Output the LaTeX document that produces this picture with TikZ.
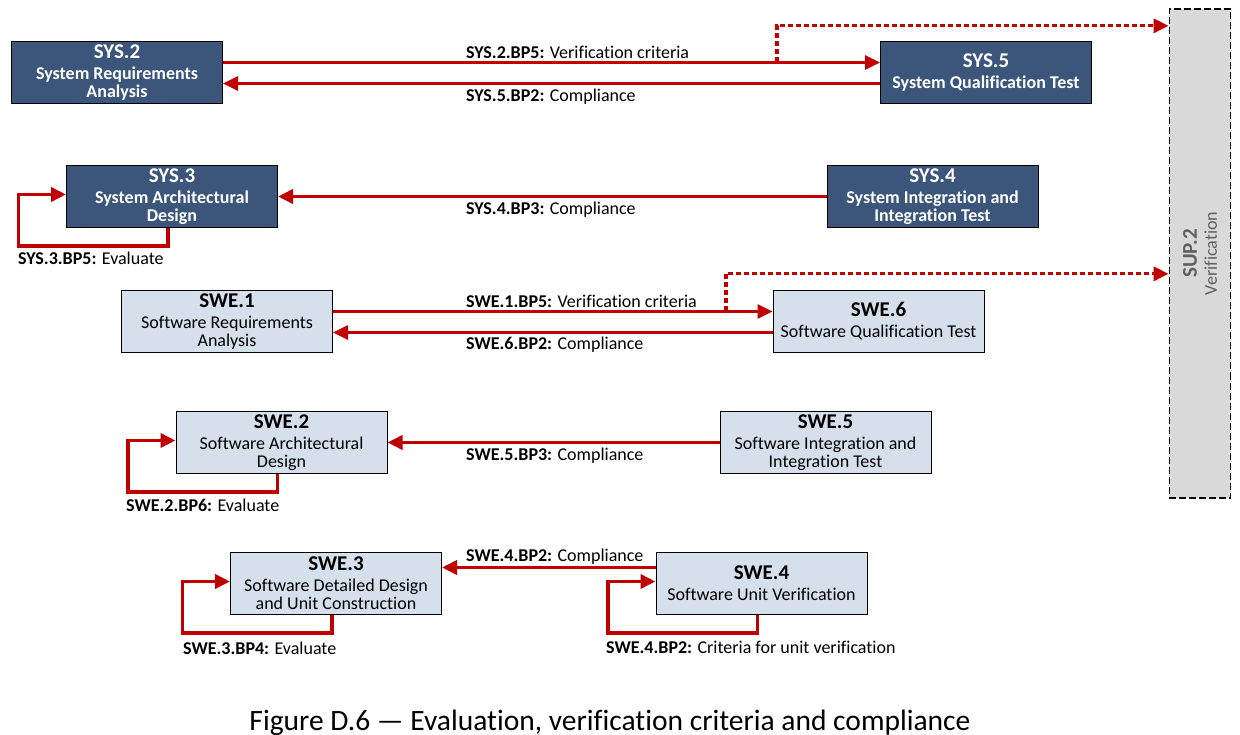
\documentclass[tikz,border=0pt]{standalone}
\usepackage{fontspec}
\setmainfont{Carlito}[Ligatures=NoCommon]
\usetikzlibrary{arrows.meta}
\definecolor{sysblue}{RGB}{59,86,122}
\definecolor{swefill}{RGB}{214,223,236}
\definecolor{arrowred}{RGB}{192,0,0}
\definecolor{supgray}{RGB}{217,217,217}
\definecolor{suptext}{RGB}{95,95,95}
\begin{document}
\begin{tikzpicture}[x=1pt,y=-1pt,>={Triangle[length=15pt,width=14pt]},
  proc/.style={draw=black, line width=1pt, minimum width=211pt, minimum height=61.5pt, inner sep=0pt, align=center, font=\fontsize{18}{18}\selectfont},
  sysbox/.style={proc, fill=sysblue, text=white, font=\fontsize{18}{18}\selectfont\bfseries},
  swebox/.style={proc, fill=swefill},
  flow/.style={->, draw=arrowred, line width=2.7pt},
  bigflow/.style={flow, line width=3.6pt},
  verif/.style={flow, line width=3.3pt, dash pattern=on 5pt off 3pt},
  lbl/.style={anchor=base west, inner sep=0pt, font=\fontsize{18}{18}\selectfont}]
\useasboundingbox (0,0) rectangle (1240,735);

% SUP.2 column
\node[draw, line width=1.3pt, dash pattern=on 7pt off 3pt, fill=supgray, minimum width=61.5pt, minimum height=489pt] (sup2) at (1200,253.5) {};
\node[rotate=90, align=center, text=suptext, font=\fontsize{18}{18}\selectfont] (sup2txt) at (sup2.center) {{\fontsize{21}{21}\selectfont\bfseries SUP.2}\\[2pt]Verification};

% system level
\node[sysbox] (sys2) at (117,72.5) {{\fontsize{21}{21}\selectfont SYS.2}\\[3pt]System Requirements\\Analysis};
\node[sysbox] (sys5) at (986,72.5) {{\fontsize{21}{21}\selectfont SYS.5}\\[3pt]System Qualification Test};
\node[sysbox] (sys3) at (172,196.5) {{\fontsize{21}{21}\selectfont SYS.3}\\[3pt]System Architectural\\Design};
\node[sysbox] (sys4) at (932.5,196.5) {{\fontsize{21}{21}\selectfont SYS.4}\\[3pt]System Integration and\\Integration Test};

% software level
\node[swebox] (swe1) at (227,321.5) {{\fontsize{21}{21}\selectfont\bfseries SWE.1}\\[3pt]Software Requirements\\Analysis};
\node[swebox] (swe6) at (878.5,321.5) {{\fontsize{21}{21}\selectfont\bfseries SWE.6}\\[3pt]Software Qualification Test};
\node[swebox] (swe2) at (281.5,442.5) {{\fontsize{21}{21}\selectfont\bfseries SWE.2}\\[3pt]Software Architectural\\Design};
\node[swebox] (swe5) at (825.5,442.5) {{\fontsize{21}{21}\selectfont\bfseries SWE.5}\\[3pt]Software Integration and\\Integration Test};
\node[swebox] (swe3) at (336,583.5) {{\fontsize{21}{21}\selectfont\bfseries SWE.3}\\[3pt]Software Detailed Design\\and Unit Construction};
\node[swebox] (swe4) at (761.5,583.5) {{\fontsize{21}{21}\selectfont\bfseries SWE.4}\\[3pt]Software Unit Verification};

% arrows between the pairs
\draw[flow] ([yshift=10pt]sys2.east) -- ([yshift=10pt]sys5.west);
\draw[flow] ([yshift=-11pt]sys5.west) -- ([yshift=-11pt]sys2.east);
\draw[bigflow] (sys4.west) -- (sys3.east);
\draw[flow] ([yshift=10pt]swe1.east) -- ([yshift=10pt]swe6.west);
\draw[flow] ([yshift=-11pt]swe6.west) -- ([yshift=-11pt]swe1.east);
\draw[bigflow] (swe5.west) -- (swe2.east);
\draw[bigflow] ([yshift=16pt]swe4.west) -- ([yshift=16pt]swe3.east);

% evaluate loops
\draw[bigflow] ([xshift=-4pt]sys3.south) -- ++(0,18.5) -| ([xshift=-47.5pt,yshift=2pt]sys3.west) -- ([yshift=2pt]sys3.west);
\draw[bigflow] ([xshift=-4pt]swe2.south) -- ++(0,18.5) -| ([xshift=-47.5pt,yshift=2pt]swe2.west) -- ([yshift=2pt]swe2.west);
\draw[bigflow] ([xshift=-4pt]swe3.south) -- ++(0,18.5) -| ([xshift=-47.5pt,yshift=2pt]swe3.west) -- ([yshift=2pt]swe3.west);
\draw[bigflow] ([xshift=-4pt]swe4.south) -- ++(0,18.5) -| ([xshift=-47.5pt,yshift=2pt]swe4.west) -- ([yshift=2pt]swe4.west);

% to verification
\coordinate (sysfork) at (777,62.5);
\coordinate (swefork) at (726,311.5);
\draw[verif] (sysfork) |- ([yshift=-17.5pt]sup2.north west);
\draw[verif] (swefork) |- ([yshift=-265.5pt]sup2.north west);

% labels
\node[lbl] (l1) at (466,58.5) {\textbf{SYS.2.BP5:} Verification criteria};
\node[lbl] (l2) at (466,102) {\textbf{SYS.5.BP2:} Compliance};
\node[lbl] (l3) at (466,215) {\textbf{SYS.4.BP3:} Compliance};
\node[lbl] (l4) at (18,265) {\textbf{SYS.3.BP5:} Evaluate};
\node[lbl] (l5) at (466,307.5) {\textbf{SWE.1.BP5:} Verification criteria};
\node[lbl] (l6) at (466,349) {\textbf{SWE.6.BP2:} Compliance};
\node[lbl] (l7) at (466,460) {\textbf{SWE.5.BP3:} Compliance};
\node[lbl] (l8) at (126,511.5) {\textbf{SWE.2.BP6:} Evaluate};
\node[lbl] (l9) at (466,561.5) {\textbf{SWE.4.BP2:} Compliance};
\node[lbl] (l10) at (183,654) {\textbf{SWE.3.BP4:} Evaluate};
\node[lbl] (l11) at (606,653.5) {\textbf{SWE.4.BP2:} Criteria for unit verification};

\node[anchor=base, font=\fontsize{29.5}{29.5}\selectfont] (caption) at (610,730) {Figure D.6 — Evaluation, verification criteria and compliance};
\end{tikzpicture}
\end{document}
